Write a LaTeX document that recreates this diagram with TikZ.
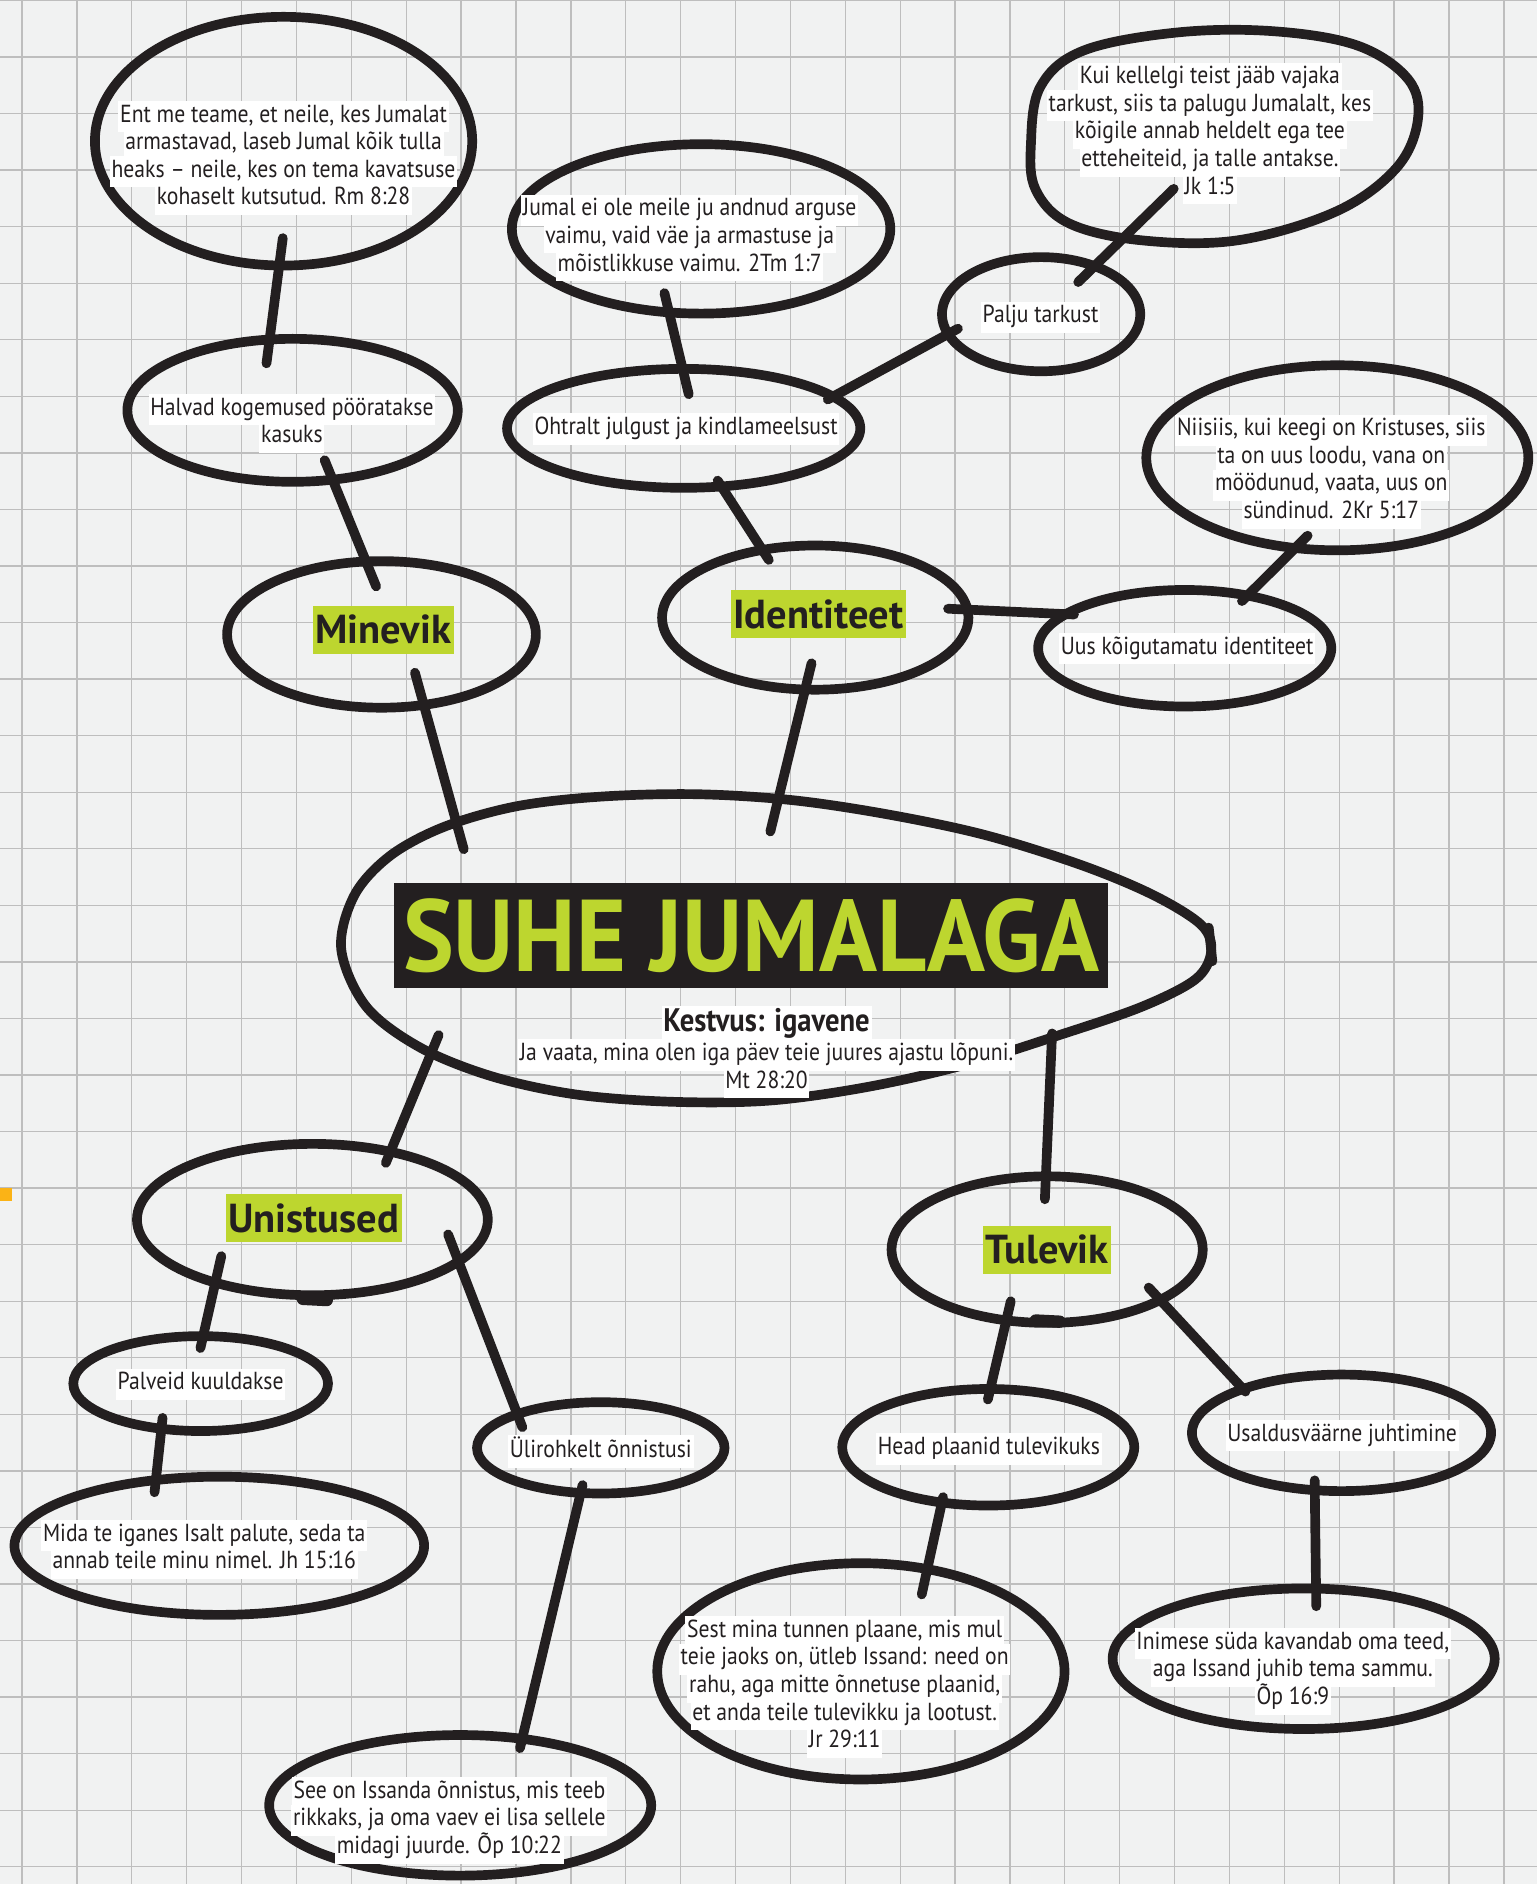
\documentclass[tikz,border=0pt]{standalone}
\usepackage{graphicx}
\usepackage{fontspec}
\setmainfont{PT Sans}
\newfontfamily\notefont{PT Sans}[FakeStretch=0.88]
\newfontfamily\tagfont{PT Sans}
\usetikzlibrary{shapes.geometric}
\definecolor{Ink}{HTML}{231F20}
\definecolor{Lime}{HTML}{BDD62F}
\definecolor{Paper}{HTML}{F1F2F2}
\definecolor{GridGray}{HTML}{BEBEBE}
\definecolor{Amber}{HTML}{FBB316}
\setlength{\fboxsep}{1pt}
\setlength{\lineskiplimit}{-30pt}
\newcommand{\wl}[1]{\colorbox{white}{\strut #1}}

\begin{document}
\begin{tikzpicture}[x=0.24mm, y=-0.24mm,
  oval/.style 2 args={ellipse, draw=Ink, line width=5.5pt, outer sep=0pt, inner sep=0pt,
    minimum width=#1*0.24mm, minimum height=#2*0.24mm},
  spot/.style 2 args={ellipse, outer sep=0pt, inner sep=0pt,
    minimum width=#1*0.24mm, minimum height=#2*0.24mm},
  pen/.style={draw=Ink, line width=5.5pt, line cap=round},
  note/.style={font=\notefont\fontsize{14}{15.7}\selectfont,
    text=Ink, align=center, inner sep=0pt},
  tag/.style={fill=Lime, text=Ink, font=\tagfont\bfseries\fontsize{23}{23}\selectfont,
    inner xsep=1.5pt, inner ysep=0pt, minimum height=40*0.24mm},
  link/.style={draw=Ink, line width=5.5pt, line cap=round},
  ext/.code 2 args={\pgfmathsetlengthmacro\extA{-#1*0.24mm}%
    \pgfmathsetlengthmacro\extB{-#2*0.24mm}%
    \tikzset{shorten <=\extA, shorten >=\extB}},
]
  % Paper and grid
  \fill[Paper] (0,0) rectangle (1279,1568);
  \useasboundingbox (0,0) rectangle (1279,1568);
  \foreach \k in {0,...,27}
    \draw[GridGray, line width=0.75pt] ({18.3+45.68*\k},0) -- ++(0,1568);
  \foreach \k in {0,...,33}
    \draw[GridGray, line width=0.75pt] (0,{0.37+47.07*\k}) -- ++(1279,0);
  \fill[Amber] (0,988.6) rectangle (10,999.4);

  % Centre loop
  \draw[pen] plot[smooth cycle, tension=0.55] coordinates {
    (284,790) (295,745) (325,712) (370,688) (430,671) (500,663) (580,661) (660,666)
    (740,678) (820,695) (900,720) (960,745) (1000,770) (1008,792) (995,815) (950,838)
    (880,862) (800,887) (720,905) (640,916) (560,917) (480,911) (410,896) (350,872)
    (305,838)};
  \draw[pen] (1006,772) -- (1009,800);
  \node[spot={721}{248}] (suhe) at (647.5,790) {};

  % Past
  \node[oval={314}{207}] (q1) at (236,117.5) {};
  \node[oval={275}{119}] (halvad) at (243.5,341.5) {};
  \node[oval={257}{122}] (minevik) at (317.5,528) {};

  % Identity
  \node[oval={315}{141}] (q2) at (583.5,190.5) {};
  \node[oval={294}{99}] (ohtralt) at (569,356.5) {};
  \node[oval={165}{95}] (palju) at (866.5,261.5) {};
  \draw[pen] plot[smooth cycle, tension=0.6] coordinates {
    (858,120) (866,72) (902,42) (980,27) (1060,26) (1130,38) (1172,66) (1180,100)
    (1162,140) (1112,176) (1030,200) (950,200) (890,186) (862,158)};
  \node[spot={320}{179}] (q3) at (1019,111.5) {};
  \node[oval={255}{120}] (identiteet) at (678.5,514) {};
  \node[oval={244}{97}] (uus) at (986,539.5) {};
  \node[oval={318}{154}] (q4) at (1113,381) {};

  % Dreams
  \node[oval={292}{126}] (unistused) at (260,1015) {};
  \node[oval={212}{79}] (palveid) at (167,1151.5) {};
  \node[oval={341}{115}] (mida) at (182.5,1286.5) {};
  \node[oval={206}{76}] (ulir) at (500,1205) {};
  \node[oval={318}{117}] (seeon) at (383,1502.5) {};
  \draw[Ink, line width=7pt, line cap=round] (252,1081) -- (272,1082);

  % Future
  \node[oval={259}{122}] (tulevik) at (871.5,1040) {};
  \node[oval={243}{97}] (head) at (822.5,1204.5) {};
  \node[oval={249}{97}] (usald) at (1116.5,1192.5) {};
  \node[oval={339}{180}] (sest) at (716.5,1391) {};
  \node[oval={318}{117}] (inimese) at (1085,1380.5) {};
  \draw[Ink, line width=7pt, line cap=round] (862,1099) -- (882,1100);

  % Connectors
  \draw[link, ext={23}{20}] (q1.268) -- (halvad.108);
  \draw[link, ext={17.5}{22.4}] (halvad.300) -- (minevik.102);
  \draw[link, ext={27.8}{2}] (minevik.301) -- (suhe.162);
  \draw[link, ext={22.5}{26.8}] (identiteet.262) -- (suhe.90);
  \draw[link, ext={16.5}{21.7}] (q2.249) -- (ohtralt.91);
  \draw[link, ext={5.8}{9.9}] (ohtralt.303) -- (identiteet.128);
  \draw[link, ext={5}{9.3}] (ohtralt.12) -- (palju.192);
  \draw[link, ext={19}{47.4}] (palju.42) -- (q3.226);
  \draw[link, ext={16.2}{6.8}] (identiteet.3) -- (uus.164);
  \draw[link, ext={6.5}{14.6}] (uus.40) -- (q4.245);
  \draw[link, ext={5.1}{10}] (suhe.195) -- (unistused.41);
  \draw[link, ext={26.3}{19.1}] (suhe.337) -- (tulevik.91);
  \draw[link, ext={22.6}{10.2}] (unistused.213) -- (palveid.87);
  \draw[link, ext={9.1}{10.2}] (palveid.229) -- (mida.134);
  \draw[link, ext={24.1}{11.6}] (unistused.344) -- (ulir.158);
  \draw[link, ext={6.7}{8}] (ulir.246) -- (seeon.47);
  \draw[link, ext={16.3}{9}] (tulevik.240) -- (head.88);
  \draw[link, ext={14.1}{3}] (tulevik.336) -- (usald.156);
  \draw[link, ext={4.6}{21.6}] (head.230) -- (sest.57);
  \draw[link, ext={8.2}{14.7}] (usald.245) -- (inimese.80);

  % Texts
  \node[fill=Ink, text=Lime, font=\tagfont\bfseries\fontsize{58}{58}\selectfont,
    minimum width=594*0.24mm, minimum height=87*0.24mm, inner sep=0pt]
    (title) at (625,778.5) {\resizebox{139mm}{\height}{SUHE JUMALAGA}};
  \node[note, font=\notefont\bfseries\fontsize{18.5}{19}\selectfont] (kestvus) at (638,853)
    {\wl{Kestvus: igavene}};
  \node[note] (javaata) at (638,889.5)
    {\wl{Ja vaata, mina olen iga päev teie juures ajastu lõpuni.}\\ \wl{Mt 28:20}};

  \node[note] (q1txt) at (236,131.5)
    {\wl{Ent me teame, et neile, kes Jumalat}\\ \wl{armastavad, laseb Jumal kõik tulla}\\
     \wl{heaks – neile, kes on tema kavatsuse}\\ \wl{kohaselt kutsutud. Rm 8:28}};
  \node[note] (halvadtxt) at (243,352.5) {\wl{Halvad kogemused pööratakse}\\ \wl{kasuks}};
  \node[tag] (minevikt) at (319,524) {Minevik};

  \node[note] (q2txt) at (574,198)
    {\wl{Jumal ei ole meile ju andnud arguse}\\ \wl{vaimu, vaid väe ja armastuse ja}\\
     \wl{mõistlikkuse vaimu. 2Tm 1:7}};
  \node[note] (ohtralttxt) at (571,357) {\wl{Ohtralt julgust ja kindlameelsust}};
  \node[note] (paljutxt) at (866,264) {\wl{Palju tarkust}};
  \node[note] (q3txt) at (1007,111)
    {\wl{Kui kellelgi teist jääb vajaka}\\ \wl{tarkust, siis ta palugu Jumalalt, kes}\\
     \wl{kõigile annab heldelt ega tee}\\ \wl{etteheiteid, ja talle antakse.}\\ \wl{Jk 1:5}};
  \node[tag] (identiteett) at (681,511) {Identiteet};
  \node[note] (uustxt) at (988,540) {\wl{Uus kõigutamatu identiteet}};
  \node[note] (q4txt) at (1108,392.5)
    {\wl{Niisiis, kui keegi on Kristuses, siis}\\ \wl{ta on uus loodu, vana on}\\
     \wl{möödunud, vaata, uus on}\\ \wl{sündinud. 2Kr 5:17}};

  \node[tag] (unistusedt) at (261,1014) {Unistused};
  \node[note] (palveidtxt) at (167,1152) {\wl{Palveid kuuldakse}};
  \node[note] (midatxt) at (170,1289.5)
    {\wl{Mida te iganes Isalt palute, seda ta}\\ \wl{annab teile minu nimel. Jh 15:16}};
  \node[note] (ulirtxt) at (500,1208) {\wl{Ülirohkelt õnnistusi}};
  \node[note] (seeontxt) at (374,1515)
    {\wl{See on Issanda õnnistus, mis teeb}\\ \wl{rikkaks, ja oma vaev ei lisa sellele}\\
     \wl{midagi juurde. Õp 10:22}};

  \node[tag] (tulevikt) at (871.5,1040) {Tulevik};
  \node[note] (headtxt) at (823,1206) {\wl{Head plaanid tulevikuks}};
  \node[note] (usaldtxt) at (1117,1195) {\wl{Usaldusväärne juhtimine}};
  \node[note] (sesttxt) at (703,1404)
    {\wl{Sest mina tunnen plaane, mis mul}\\ \wl{teie jaoks on, ütleb Issand: need on}\\
     \wl{rahu, aga mitte õnnetuse plaanid,}\\ \wl{et anda teile tulevikku ja lootust.}\\
     \wl{Jr 29:11}};
  \node[note] (inimesetxt) at (1076,1391)
    {\wl{Inimese süda kavandab oma teed,}\\ \wl{aga Issand juhib tema sammu.}\\ \wl{Õp 16:9}};
\end{tikzpicture}
\end{document}
